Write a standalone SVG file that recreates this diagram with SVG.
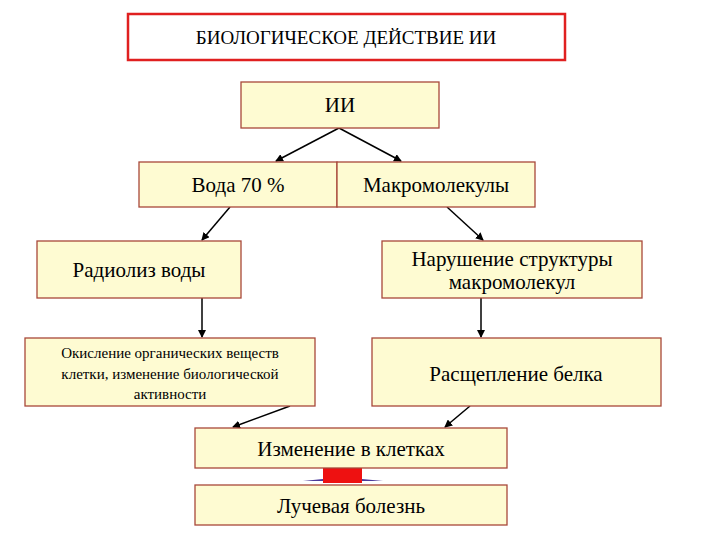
<svg xmlns="http://www.w3.org/2000/svg" width="720" height="540" viewBox="0 0 720 540">
<defs>
<style>
.b{fill:#fefbd2;stroke:#a8483a;stroke-width:1.3}
.t{fill:#000;text-anchor:middle}
.c{stroke:#000;stroke-width:1.5;fill:none;marker-end:url(#a)}
</style>
<marker id="a" markerWidth="8" markerHeight="8" refX="7" refY="4" orient="auto" markerUnits="userSpaceOnUse"><path d="M0,0L8,4L0,8z" fill="#000"/></marker>
</defs>
<rect width="720" height="540" fill="#fff"/>
<g id="connectors">
<path class="c" d="M339,128L276,161"/>
<path class="c" d="M339,128L401,161"/>
<path class="c" d="M230,207L202,240"/>
<path class="c" d="M447,207L483,240"/>
<path class="c" d="M202,298L202,337"/>
<path class="c" d="M481,298L481,337"/>
<path class="c" d="M290,406L233,427"/>
<path class="c" d="M470,406L445,427"/>
<path d="M303,481L383,481L362,479L323,479z" fill="#4a3a9a"/>
<rect x="323" y="468" width="39" height="15" fill="#ee1111"/>
</g>
<g font-family="'Liberation Serif', 'Times New Roman', 'DejaVu Serif', serif">
<g id="title"><rect x="128" y="14" width="437" height="46" fill="#fff" stroke="#e02020" stroke-width="2.5"/><text class="t" x="346" y="44" font-size="19">БИОЛОГИЧЕСКОЕ ДЕЙСТВИЕ ИИ</text></g>
<g id="ii"><rect class="b" x="241" y="82" width="198" height="46"/><text class="t" x="340" y="112" font-size="21">ИИ</text></g>
<g id="voda"><rect class="b" x="139" y="162" width="198" height="45"/><text class="t" x="238" y="192" font-size="21">Вода 70 %</text></g>
<g id="makro"><rect class="b" x="337" y="162" width="198" height="45"/><text class="t" x="436" y="192" font-size="21">Макромолекулы</text></g>
<g id="radioliz"><rect class="b" x="37" y="241" width="204" height="57"/><text class="t" x="139" y="277" font-size="21">Радиолиз воды</text></g>
<g id="narush"><rect class="b" x="382" y="241" width="260" height="57"/><text class="t" x="512" y="266" font-size="21">Нарушение структуры</text><text class="t" x="512" y="289" font-size="21">макромолекул</text></g>
<g id="okisl"><rect class="b" x="25" y="338" width="290" height="68"/><text class="t" x="170" y="358" font-size="15">Окисление органических веществ</text><text class="t" x="170" y="379" font-size="15">клетки, изменение биологической</text><text class="t" x="170" y="399" font-size="15">активности</text></g>
<g id="rassch"><rect class="b" x="372" y="338" width="289" height="68"/><text class="t" x="516" y="381" font-size="21">Расщепление белка</text></g>
<g id="izmen"><rect class="b" x="195" y="428" width="312" height="40"/><text class="t" x="351" y="456" font-size="21">Изменение в клетках</text></g>
<g id="luch"><rect class="b" x="195" y="485" width="312" height="40"/><text class="t" x="351" y="513" font-size="21">Лучевая болезнь</text></g>
</g>
</svg>
